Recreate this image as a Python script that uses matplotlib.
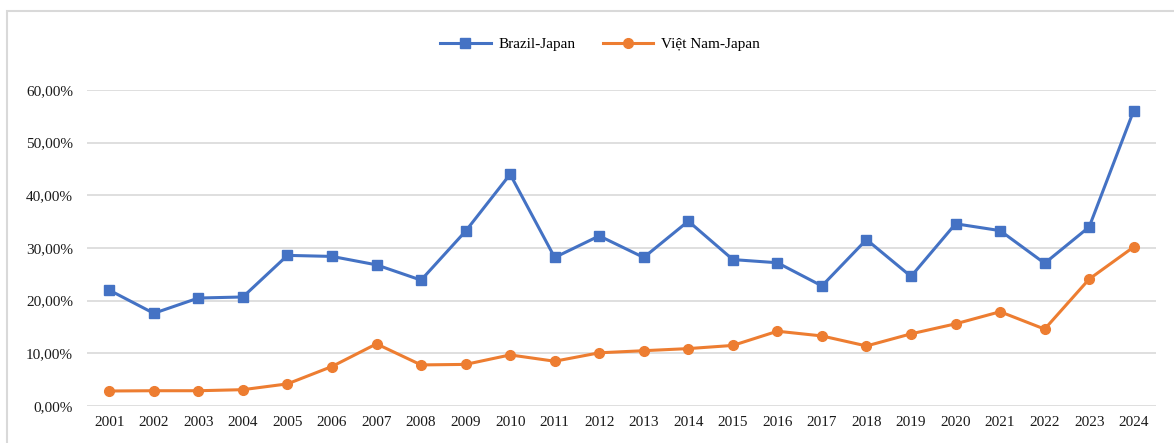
import matplotlib
matplotlib.use("Agg")
import matplotlib.pyplot as plt
from matplotlib.ticker import FuncFormatter, MultipleLocator
from matplotlib.patches import Rectangle
import numpy as np

plt.rcParams['font.family'] = ['Liberation Serif', 'DejaVu Serif']

# Data (percent)
years = [str(y) for y in range(2001, 2025)]
brazil_japan = [22.0, 17.6, 20.5, 20.7, 28.6, 28.4, 26.8, 23.9, 33.2, 44.0,
                28.2, 32.3, 28.2, 35.1, 27.8, 27.2, 22.8, 31.6, 24.6, 34.6,
                33.3, 27.1, 34.0, 56.1]
vietnam_japan = [2.85, 2.9, 2.9, 3.1, 4.2, 7.5, 11.8, 7.8, 7.9, 9.7,
                 8.5, 10.1, 10.5, 10.9, 11.5, 14.2, 13.3, 11.4, 13.7, 15.6,
                 17.9, 14.6, 24.1, 30.2]

blue = '#4472C4'
orange = '#ED7D31'

fig = plt.figure(figsize=(11.74, 4.43), dpi=100)
ax = fig.add_axes([87 / 1174, 1 - 406 / 443, (1156 - 87) / 1174, (406 - 90) / 443])

x = np.arange(len(years))
ax.plot(x, brazil_japan, color=blue, lw=2.2, marker='s', ms=7, label='Brazil-Japan', zorder=3)
ax.plot(x, vietnam_japan, color=orange, lw=2.2, marker='o', ms=7, label='Việt Nam-Japan', zorder=3)

ax.set_xlim(-0.5, len(years) - 0.5)
ax.set_ylim(0, 60)
ax.set_xticks(x)
ax.set_xticklabels(years)
ax.yaxis.set_major_locator(MultipleLocator(10))
ax.yaxis.set_major_formatter(FuncFormatter(lambda v, p: f"{v:.2f}".replace('.', ',') + '%'))
ax.grid(axis='y', color='#D9D9D9', lw=1.2)
ax.set_axisbelow(True)
for s in ax.spines.values():
    s.set_visible(False)
ax.tick_params(axis='both', length=0, labelsize=11, colors='#1a1a1a')
ax.tick_params(axis='y', pad=10)
ax.tick_params(axis='x', pad=7)

fig.legend(loc='center', bbox_to_anchor=(600 / 1174, 1 - 44 / 443), ncol=2, frameon=False,
           fontsize=11, handlelength=3.3, handletextpad=0.5, columnspacing=1.8)

# light chart-area border (cropped on the right and bottom)
fig.patches.append(Rectangle((7 / 1174, -0.1), 1.2, 1.1 - 11 / 443, transform=fig.transFigure,
                             fill=False, edgecolor='#D9D9D9', lw=1.5))

fig.savefig('out.png', dpi=100)
